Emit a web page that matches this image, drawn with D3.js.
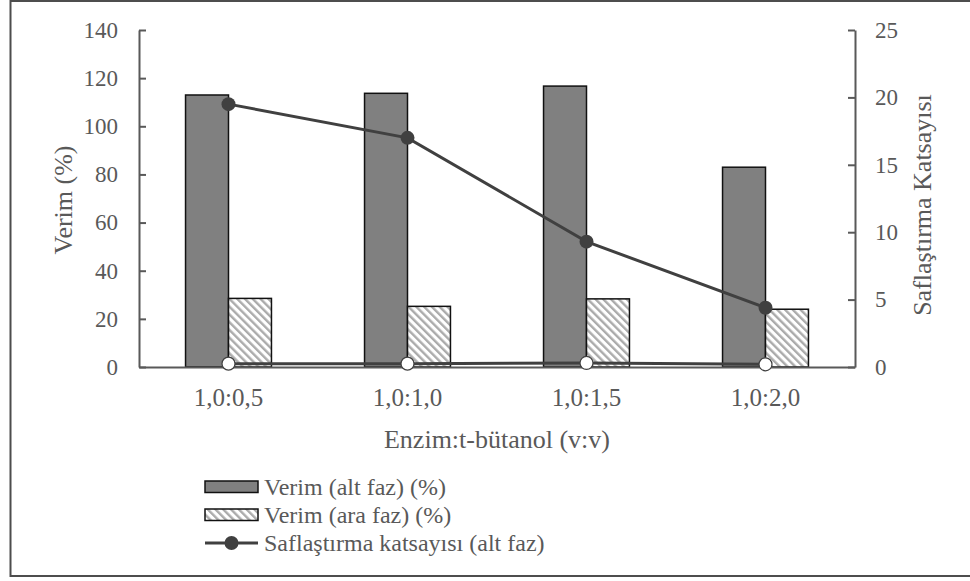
<!DOCTYPE html>
<html>
<head>
<meta charset="utf-8">
<script src="https://cdn.jsdelivr.net/npm/d3@7"></script>
<style>
  html, body { margin: 0; padding: 0; background: #fff; }
  svg { display: block; }
  svg text { font-family: "Liberation Serif", "DejaVu Serif", serif !important; fill: #595959; }
</style>
</head>
<body>
<svg id="chart" width="970" height="581"></svg>
<script>
// Oranlar (Enzim:t-bütanol, v:v)
const categories = ["1,0:0,5", "1,0:1,0", "1,0:1,5", "1,0:2,0"];
// Verim (%) — alt faz ve ara faz
const verimAlt = [113.0, 113.7, 116.7, 83.0];
const verimAra = [28.5, 25.2, 28.3, 24.0];
// Saflaştırma katsayısı — alt faz ve ara faz
const saflastirmaAlt = [19.5, 17.0, 9.3, 4.4];
const saflastirmaAra = [0.25, 0.25, 0.3, 0.2];
// Eksen işaretleri
const leftTicks = [0, 20, 40, 60, 80, 100, 120, 140];
const rightTicks = [0, 5, 10, 15, 20, 25];
const legendLabels = ["Verim (alt faz) (%)", "Verim (ara faz) (%)", "Saflaştırma katsayısı (alt faz)"];

const FONT = '"Liberation Serif", "DejaVu Serif", serif';
const svg = d3.select("#chart");
const plot = { left: 139, right: 855, top: 30, bottom: 367 };
const axisColor = "#595959";
const lineColor = "#404040";

// Çizgili dolgu deseni
const defs = svg.append("defs");
const pat = defs.append("pattern")
  .attr("id", "hatch")
  .attr("patternUnits", "userSpaceOnUse")
  .attr("width", 5.5).attr("height", 5.5)
  .attr("patternTransform", "rotate(-45)");
pat.append("rect").attr("width", 5.5).attr("height", 5.5).attr("fill", "#fff");
pat.append("rect").attr("width", 2.4).attr("height", 5.5).attr("fill", "#ababab");

// Dış çerçeve
svg.append("rect")
  .attr("x", 10.5).attr("y", 1).attr("width", 990).attr("height", 575)
  .attr("fill", "none").attr("stroke", "#4d4d4d").attr("stroke-width", 2);

// Ölçekler
const x = d3.scaleBand().domain(categories)
  .range([plot.left, plot.right]).paddingInner(0.52).paddingOuter(0.26);
const xs = d3.scaleBand().domain(["alt", "ara"]).range([0, x.bandwidth()]);
const yL = d3.scaleLinear().domain([0, 140]).range([plot.bottom, plot.top]);
const yR = d3.scaleLinear().domain([0, 25]).range([plot.bottom, plot.top]);

// Çubuklar
const groups = svg.append("g").selectAll("g").data(categories).join("g")
  .attr("transform", d => `translate(${x(d)},0)`);
groups.append("rect")
  .attr("x", xs("alt")).attr("width", xs.bandwidth())
  .attr("y", (d, i) => yL(verimAlt[i]))
  .attr("height", (d, i) => yL(0) - yL(verimAlt[i]))
  .attr("fill", "#808080").attr("stroke", "#111").attr("stroke-width", 1.5);
groups.append("rect")
  .attr("x", xs("ara")).attr("width", xs.bandwidth())
  .attr("y", (d, i) => yL(verimAra[i]))
  .attr("height", (d, i) => yL(0) - yL(verimAra[i]))
  .attr("fill", "url(#hatch)").attr("stroke", "#111").attr("stroke-width", 1.5);

// Eksenler
function styleAxis(g) {
  g.attr("font-family", FONT);
  g.select(".domain").attr("stroke", axisColor).attr("stroke-width", 2);
  g.selectAll(".tick line").attr("stroke", axisColor).attr("stroke-width", 2);
  g.selectAll(".tick text").attr("fill", "#595959").attr("font-family", FONT);
}
svg.append("g").attr("transform", `translate(${plot.left},0)`)
  .call(d3.axisLeft(yL).tickValues(leftTicks).tickSizeInner(-7).tickSizeOuter(0).tickPadding(21))
  .call(styleAxis)
  .selectAll(".tick text").style("font-size", "23px");
svg.append("g").attr("transform", `translate(${plot.right},0)`)
  .call(d3.axisRight(yR).tickValues(rightTicks).tickSizeInner(-7).tickSizeOuter(0).tickPadding(20))
  .call(styleAxis)
  .selectAll(".tick text").style("font-size", "23px");
svg.append("g").attr("transform", `translate(0,${plot.bottom})`)
  .call(d3.axisBottom(x).tickSize(0).tickPadding(21))
  .call(styleAxis)
  .selectAll(".tick text").style("font-size", "25px");

// Eksen başlıkları
svg.append("text")
  .attr("transform", `translate(72,200) rotate(-90)`)
  .attr("text-anchor", "middle").attr("font-family", FONT).style("font-size", "26px")
  .text("Verim (%)");
svg.append("text")
  .attr("transform", `translate(931,205) rotate(-90)`)
  .attr("text-anchor", "middle").attr("font-family", FONT).style("font-size", "26px")
  .text("Saflaştırma Katsayısı");
svg.append("text")
  .attr("x", (plot.left + plot.right) / 2).attr("y", 448)
  .attr("text-anchor", "middle").attr("font-family", FONT).style("font-size", "26px")
  .text("Enzim:t-bütanol (v:v)");

// Saflaştırma katsayısı çizgileri
const cx = d => x(d) + x.bandwidth() / 2;
const line = vals => d3.line().x(d => cx(d)).y((d, i) => yR(vals[i]))(categories);

svg.append("path").attr("d", line(saflastirmaAra))
  .attr("fill", "none").attr("stroke", lineColor).attr("stroke-width", 3);
svg.append("g").selectAll("circle").data(categories).join("circle")
  .attr("cx", cx).attr("cy", (d, i) => yR(saflastirmaAra[i])).attr("r", 6.5)
  .attr("fill", "#fff").attr("stroke", lineColor).attr("stroke-width", 1.2);

svg.append("path").attr("d", line(saflastirmaAlt))
  .attr("fill", "none").attr("stroke", lineColor).attr("stroke-width", 3);
svg.append("g").selectAll("circle").data(categories).join("circle")
  .attr("cx", cx).attr("cy", (d, i) => yR(saflastirmaAlt[i])).attr("r", 7)
  .attr("fill", lineColor);

// Açıklama
const lg = svg.append("g");
const rowY = [487, 515, 543];
legendLabels.forEach((label, i) => {
  const y = rowY[i];
  if (i === 0) {
    lg.append("rect").attr("x", 205).attr("y", y - 6).attr("width", 53).attr("height", 11.5)
      .attr("fill", "#808080").attr("stroke", "#111").attr("stroke-width", 1.5);
  } else if (i === 1) {
    lg.append("rect").attr("x", 205).attr("y", y - 6).attr("width", 53).attr("height", 11.5)
      .attr("fill", "url(#hatch)").attr("stroke", "#111").attr("stroke-width", 1.5);
  } else {
    lg.append("line").attr("x1", 205).attr("x2", 258).attr("y1", y).attr("y2", y)
      .attr("stroke", lineColor).attr("stroke-width", 3);
    lg.append("circle").attr("cx", 231.5).attr("cy", y).attr("r", 7).attr("fill", lineColor);
  }
  lg.append("text").attr("x", 264).attr("y", y + 8).attr("font-family", FONT)
    .style("font-size", "24px").text(label);
});
</script>
</body>
</html>
